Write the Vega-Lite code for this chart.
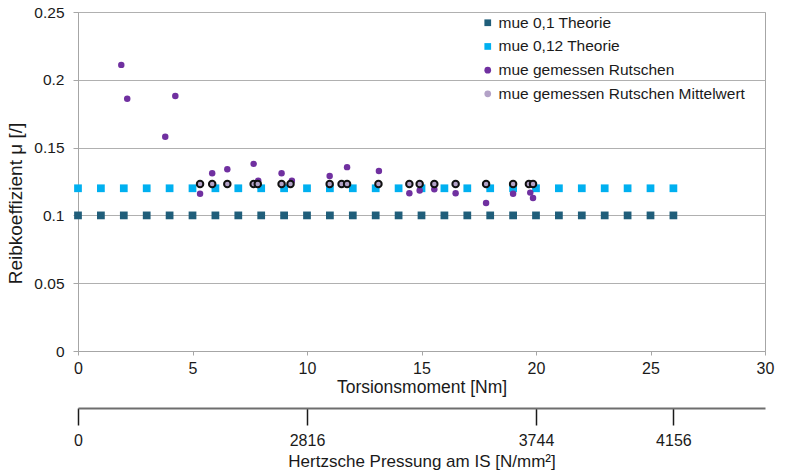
{
  "$schema": "https://vega.github.io/schema/vega-lite/v6.json",
  "autosize": {"type": "none"},
  "width": 687,
  "height": 339,
  "padding": {"left": 78, "top": 12, "right": 20, "bottom": 122},
  "background": "white",
  "config": {
    "font": "Liberation Sans",
    "view": {"stroke": "#a6a6a6", "strokeWidth": 1},
    "axis": {"labelColor": "#1a1a1a", "titleColor": "#1a1a1a", "titleFontWeight": "normal", "labelFont": "Liberation Sans", "titleFont": "Liberation Sans"},
    "legend": {"labelFont": "Liberation Sans"}
  },
  "datasets": {
    "theory": [
      {"series": "mue 0,1 Theorie", "x": 0, "y": 0.1}, {"series": "mue 0,1 Theorie", "x": 1, "y": 0.1}, {"series": "mue 0,1 Theorie", "x": 2, "y": 0.1}, {"series": "mue 0,1 Theorie", "x": 3, "y": 0.1}, {"series": "mue 0,1 Theorie", "x": 4, "y": 0.1}, {"series": "mue 0,1 Theorie", "x": 5, "y": 0.1}, {"series": "mue 0,1 Theorie", "x": 6, "y": 0.1}, {"series": "mue 0,1 Theorie", "x": 7, "y": 0.1}, {"series": "mue 0,1 Theorie", "x": 8, "y": 0.1}, {"series": "mue 0,1 Theorie", "x": 9, "y": 0.1}, {"series": "mue 0,1 Theorie", "x": 10, "y": 0.1}, {"series": "mue 0,1 Theorie", "x": 11, "y": 0.1}, {"series": "mue 0,1 Theorie", "x": 12, "y": 0.1}, {"series": "mue 0,1 Theorie", "x": 13, "y": 0.1}, {"series": "mue 0,1 Theorie", "x": 14, "y": 0.1}, {"series": "mue 0,1 Theorie", "x": 15, "y": 0.1}, {"series": "mue 0,1 Theorie", "x": 16, "y": 0.1}, {"series": "mue 0,1 Theorie", "x": 17, "y": 0.1}, {"series": "mue 0,1 Theorie", "x": 18, "y": 0.1}, {"series": "mue 0,1 Theorie", "x": 19, "y": 0.1}, {"series": "mue 0,1 Theorie", "x": 20, "y": 0.1}, {"series": "mue 0,1 Theorie", "x": 21, "y": 0.1}, {"series": "mue 0,1 Theorie", "x": 22, "y": 0.1}, {"series": "mue 0,1 Theorie", "x": 23, "y": 0.1}, {"series": "mue 0,1 Theorie", "x": 24, "y": 0.1}, {"series": "mue 0,1 Theorie", "x": 25, "y": 0.1}, {"series": "mue 0,1 Theorie", "x": 26, "y": 0.1},
      {"series": "mue 0,12 Theorie", "x": 0, "y": 0.12}, {"series": "mue 0,12 Theorie", "x": 1, "y": 0.12}, {"series": "mue 0,12 Theorie", "x": 2, "y": 0.12}, {"series": "mue 0,12 Theorie", "x": 3, "y": 0.12}, {"series": "mue 0,12 Theorie", "x": 4, "y": 0.12}, {"series": "mue 0,12 Theorie", "x": 5, "y": 0.12}, {"series": "mue 0,12 Theorie", "x": 6, "y": 0.12}, {"series": "mue 0,12 Theorie", "x": 7, "y": 0.12}, {"series": "mue 0,12 Theorie", "x": 8, "y": 0.12}, {"series": "mue 0,12 Theorie", "x": 9, "y": 0.12}, {"series": "mue 0,12 Theorie", "x": 10, "y": 0.12}, {"series": "mue 0,12 Theorie", "x": 11, "y": 0.12}, {"series": "mue 0,12 Theorie", "x": 12, "y": 0.12}, {"series": "mue 0,12 Theorie", "x": 13, "y": 0.12}, {"series": "mue 0,12 Theorie", "x": 14, "y": 0.12}, {"series": "mue 0,12 Theorie", "x": 15, "y": 0.12}, {"series": "mue 0,12 Theorie", "x": 16, "y": 0.12}, {"series": "mue 0,12 Theorie", "x": 17, "y": 0.12}, {"series": "mue 0,12 Theorie", "x": 18, "y": 0.12}, {"series": "mue 0,12 Theorie", "x": 19, "y": 0.12}, {"series": "mue 0,12 Theorie", "x": 20, "y": 0.12}, {"series": "mue 0,12 Theorie", "x": 21, "y": 0.12}, {"series": "mue 0,12 Theorie", "x": 22, "y": 0.12}, {"series": "mue 0,12 Theorie", "x": 23, "y": 0.12}, {"series": "mue 0,12 Theorie", "x": 24, "y": 0.12}, {"series": "mue 0,12 Theorie", "x": 25, "y": 0.12}, {"series": "mue 0,12 Theorie", "x": 26, "y": 0.12}
    ],
    "measured": [
      {"series": "mue gemessen Rutschen", "x": 1.89, "y": 0.211},
      {"series": "mue gemessen Rutschen", "x": 2.15, "y": 0.186},
      {"series": "mue gemessen Rutschen", "x": 3.81, "y": 0.158},
      {"series": "mue gemessen Rutschen", "x": 4.25, "y": 0.188},
      {"series": "mue gemessen Rutschen", "x": 5.33, "y": 0.116},
      {"series": "mue gemessen Rutschen", "x": 5.86, "y": 0.131},
      {"series": "mue gemessen Rutschen", "x": 6.52, "y": 0.134},
      {"series": "mue gemessen Rutschen", "x": 7.67, "y": 0.138},
      {"series": "mue gemessen Rutschen", "x": 7.87, "y": 0.1255},
      {"series": "mue gemessen Rutschen", "x": 8.89, "y": 0.131},
      {"series": "mue gemessen Rutschen", "x": 9.34, "y": 0.1255},
      {"series": "mue gemessen Rutschen", "x": 10.99, "y": 0.129},
      {"series": "mue gemessen Rutschen", "x": 11.75, "y": 0.1356},
      {"series": "mue gemessen Rutschen", "x": 13.14, "y": 0.1328},
      {"series": "mue gemessen Rutschen", "x": 14.47, "y": 0.1164},
      {"series": "mue gemessen Rutschen", "x": 14.92, "y": 0.1183},
      {"series": "mue gemessen Rutschen", "x": 15.56, "y": 0.1193},
      {"series": "mue gemessen Rutschen", "x": 16.49, "y": 0.1164},
      {"series": "mue gemessen Rutschen", "x": 17.82, "y": 0.1092},
      {"series": "mue gemessen Rutschen", "x": 19.0, "y": 0.1159},
      {"series": "mue gemessen Rutschen", "x": 19.75, "y": 0.1168},
      {"series": "mue gemessen Rutschen", "x": 19.87, "y": 0.1129}
    ],
    "mean": [
      {"series": "mue gemessen Rutschen Mittelwert", "x": 5.33, "y": 0.1232},
      {"series": "mue gemessen Rutschen Mittelwert", "x": 5.86, "y": 0.1232},
      {"series": "mue gemessen Rutschen Mittelwert", "x": 6.52, "y": 0.1232},
      {"series": "mue gemessen Rutschen Mittelwert", "x": 7.67, "y": 0.1232},
      {"series": "mue gemessen Rutschen Mittelwert", "x": 7.85, "y": 0.1232},
      {"series": "mue gemessen Rutschen Mittelwert", "x": 8.89, "y": 0.1232},
      {"series": "mue gemessen Rutschen Mittelwert", "x": 9.28, "y": 0.1232},
      {"series": "mue gemessen Rutschen Mittelwert", "x": 10.99, "y": 0.1232},
      {"series": "mue gemessen Rutschen Mittelwert", "x": 11.51, "y": 0.1232},
      {"series": "mue gemessen Rutschen Mittelwert", "x": 11.75, "y": 0.1232},
      {"series": "mue gemessen Rutschen Mittelwert", "x": 13.12, "y": 0.1232},
      {"series": "mue gemessen Rutschen Mittelwert", "x": 14.47, "y": 0.1232},
      {"series": "mue gemessen Rutschen Mittelwert", "x": 14.92, "y": 0.1232},
      {"series": "mue gemessen Rutschen Mittelwert", "x": 15.56, "y": 0.1232},
      {"series": "mue gemessen Rutschen Mittelwert", "x": 16.49, "y": 0.1232},
      {"series": "mue gemessen Rutschen Mittelwert", "x": 17.82, "y": 0.1232},
      {"series": "mue gemessen Rutschen Mittelwert", "x": 19.0, "y": 0.1232},
      {"series": "mue gemessen Rutschen Mittelwert", "x": 19.69, "y": 0.1232},
      {"series": "mue gemessen Rutschen Mittelwert", "x": 19.87, "y": 0.1232}
    ],
    "pressure": [
      {"x": 0, "label": "0"},
      {"x": 10, "label": "2816"},
      {"x": 20, "label": "3744"},
      {"x": 26, "label": "4156"}
    ]
  },
  "resolve": {"axis": {"x": "independent"}},
  "layer": [
    {
      "data": {"name": "theory"},
      "mark": {"type": "point", "filled": true, "opacity": 1, "size": 60},
      "encoding": {
        "x": {"field": "x", "type": "quantitative", "scale": {"domain": [0, 30], "nice": false},
          "axis": {"title": "Torsionsmoment [Nm]", "values": [0, 5, 10, 15, 20, 25, 30], "grid": false, "domainColor": "#a6a6a6", "tickColor": "#a6a6a6", "tickSize": 4, "labelFontSize": 16, "labelPadding": 5, "titleFontSize": 17.5, "titlePadding": 2, "labelFlush": false}},
        "y": {"field": "y", "type": "quantitative", "scale": {"domain": [0, 0.25], "nice": false},
          "axis": {"title": "Reibkoeffizient μ [/]", "values": [0, 0.05, 0.1, 0.15, 0.2, 0.25], "format": ".2~f", "gridColor": "#b0b0b0", "domainColor": "#a6a6a6", "tickColor": "#a6a6a6", "tickSize": 5, "labelFontSize": 15.5, "labelPadding": 9, "titleFontSize": 19, "titleX": -53, "titleY": 191}},
        "color": {"field": "series", "type": "nominal",
          "scale": {"domain": ["mue 0,1 Theorie", "mue 0,12 Theorie", "mue gemessen Rutschen", "mue gemessen Rutschen Mittelwert"], "range": ["#205e7a", "#00b0f0", "#7030a0", "#b3a2c7"]},
          "legend": {"title": null, "orient": "none", "legendX": 402, "legendY": 3, "labelFontSize": 15.5, "labelLimit": 0, "labelColor": "#1a1a1a", "rowPadding": 6.7, "symbolSize": 45, "labelOffset": 3, "symbolStrokeWidth": 0}},
        "shape": {"field": "series", "type": "nominal",
          "scale": {"domain": ["mue 0,1 Theorie", "mue 0,12 Theorie", "mue gemessen Rutschen", "mue gemessen Rutschen Mittelwert"], "range": ["square", "square", "circle", "circle"]}}
      }
    },
    {
      "data": {"name": "measured"},
      "mark": {"type": "point", "filled": true, "opacity": 1, "size": 42},
      "encoding": {
        "x": {"field": "x", "type": "quantitative", "axis": null},
        "y": {"field": "y", "type": "quantitative"},
        "color": {"field": "series", "type": "nominal"},
        "shape": {"field": "series", "type": "nominal"}
      }
    },
    {
      "data": {"name": "mean"},
      "mark": {"type": "point", "filled": true, "opacity": 1, "size": 42, "stroke": "#111111", "strokeWidth": 2},
      "encoding": {
        "x": {"field": "x", "type": "quantitative", "axis": null},
        "y": {"field": "y", "type": "quantitative"},
        "color": {"field": "series", "type": "nominal"},
        "shape": {"field": "series", "type": "nominal"}
      }
    },
    {
      "data": {"name": "pressure"},
      "mark": {"type": "point", "opacity": 0},
      "encoding": {
        "x": {"field": "x", "type": "quantitative",
          "axis": {"title": "Hertzsche Pressung am IS [N/mm²]", "orient": "bottom", "offset": 57, "values": [0, 10, 20, 26],
            "labelExpr": "datum.value == 0 ? '0' : datum.value == 10 ? '2816' : datum.value == 20 ? '3744' : '4156'",
            "grid": false, "domainColor": "#6e6e6e", "domainWidth": 2, "tickColor": "#1a1a1a", "tickWidth": 1.5, "tickSize": 17, "labelFontSize": 16, "labelPadding": 7, "titleFontSize": 17, "titlePadding": 5, "labelFlush": false}}
      }
    }
  ]
}
